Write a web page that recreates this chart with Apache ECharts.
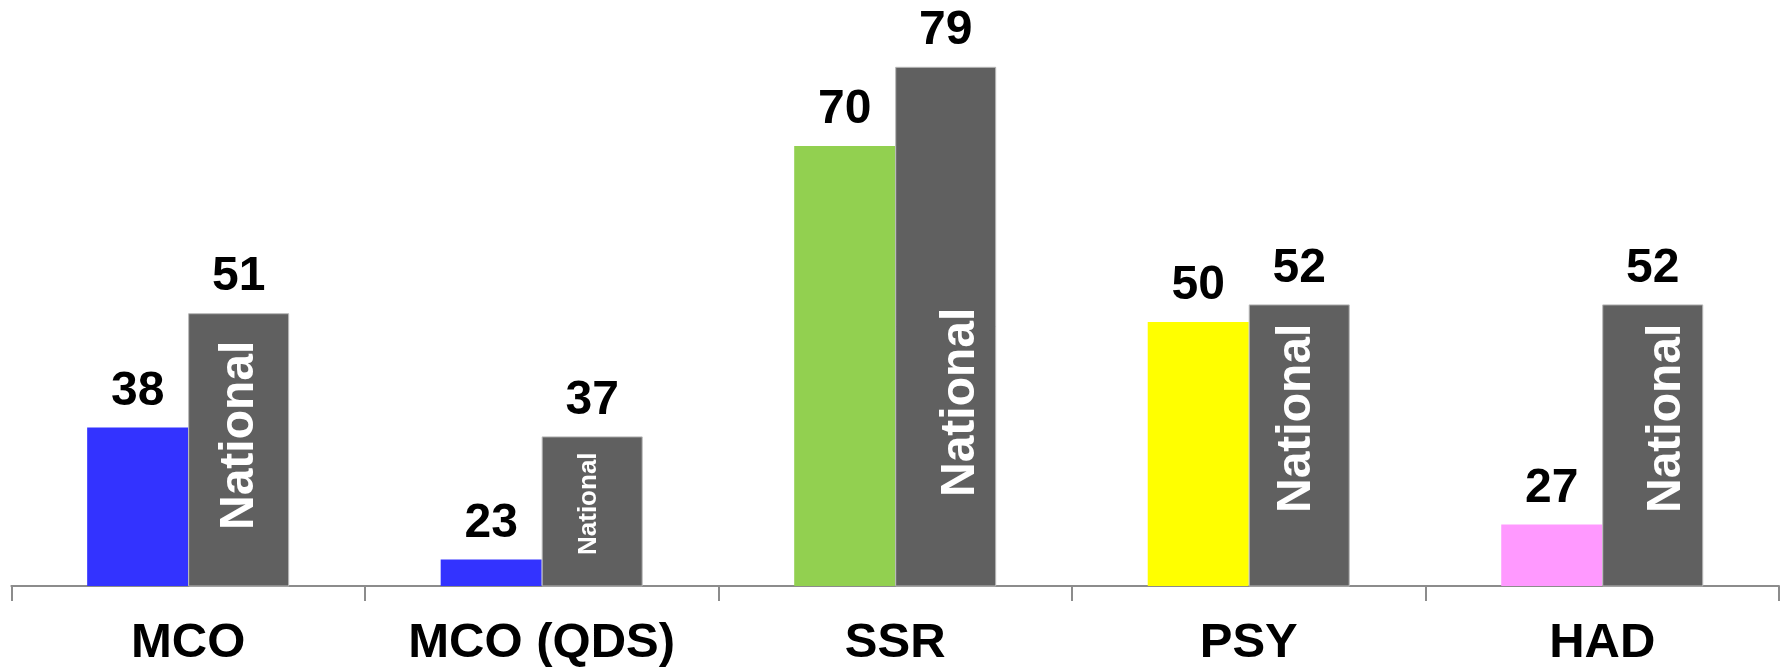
<!DOCTYPE html>
<html>
<head>
<meta charset="utf-8">
<script src="https://cdn.jsdelivr.net/npm/echarts@6/dist/echarts.min.js"></script>
<style>
  html, body { margin: 0; padding: 0; background: #ffffff; }
  #chart { width: 1787px; height: 668px; }
</style>
</head>
<body>
<div id="chart"></div>
<script>
// Categories and values
const categories = ['MCO', 'MCO (QDS)', 'SSR', 'PSY', 'HAD'];
const localValues = [38, 23, 70, 50, 27];
const nationalValues = [51, 37, 79, 52, 52];
const nationalTag = 'National';

// Styling
const localColors = ['#3333ff', '#3333ff', '#92d050', '#ffff00', '#ff99ff'];
const nationalColor = '#606060';
const tagFontSizes = [48, 26, 48, 48, 48];
const tagLift = [56, 31, 89, 73, 73];      // px above the bar base where the tag starts
const tagShift = [1, -3, 15, -2, 14];      // horizontal nudge from the bar centre
const BAR_W = 101;
const FONT = '"Liberation Sans", Arial, sans-serif';
const Y_MIN = 20, Y_MAX = 80;

const chart = echarts.init(document.getElementById('chart'), null, { renderer: 'canvas' });

const valueLabel = {
  show: true,
  position: 'top',
  distance: 12,
  color: '#000',
  fontFamily: FONT,
  fontWeight: 'bold',
  fontSize: 48,
  lineHeight: 48
};

chart.setOption({
  animation: false,
  backgroundColor: '#ffffff',
  grid: { left: 11.4, right: 8, top: 58, bottom: 81, containLabel: false },
  xAxis: {
    type: 'category',
    data: categories,
    axisLine: { show: true, lineStyle: { color: '#8c8c8c', width: 2 } },
    axisTick: { show: true, length: 15, lineStyle: { color: '#8c8c8c', width: 2 } },
    axisLabel: {
      interval: 0,
      margin: 33,
      color: '#000',
      fontFamily: FONT,
      fontWeight: 'bold',
      fontSize: 49,
      lineHeight: 49
    }
  },
  yAxis: {
    type: 'value',
    min: Y_MIN,
    max: Y_MAX,
    show: false,
    splitLine: { show: false }
  },
  series: [
    {
      name: 'Local',
      type: 'bar',
      barWidth: BAR_W,
      barGap: '0%',
      data: localValues.map((v, i) => ({ value: v, itemStyle: { color: localColors[i] } })),
      label: valueLabel
    },
    {
      name: 'National',
      type: 'bar',
      barWidth: BAR_W,
      barGap: '0%',
      data: nationalValues,
      itemStyle: { color: nationalColor, borderColor: '#b8b8b8', borderWidth: 1 },
      label: valueLabel
    },
    {
      // rotated "National" tag drawn inside each grey bar
      name: 'NationalTag',
      type: 'custom',
      z: 5,
      silent: true,
      data: nationalValues.map((v, i) => [i, v]),
      renderItem: function (params, api) {
        const i = params.dataIndex;
        const base = api.coord([api.value(0), Y_MIN]);
        const x = base[0] + BAR_W / 2 + tagShift[i];
        const y = base[1] - tagLift[i];
        return {
          type: 'text',
          x: x,
          y: y,
          rotation: Math.PI / 2,
          style: {
            text: nationalTag,
            fill: '#ffffff',
            font: 'bold ' + tagFontSizes[i] + 'px ' + FONT,
            textAlign: 'left',
            textVerticalAlign: 'middle'
          }
        };
      }
    }
  ]
});
</script>
</body>
</html>
